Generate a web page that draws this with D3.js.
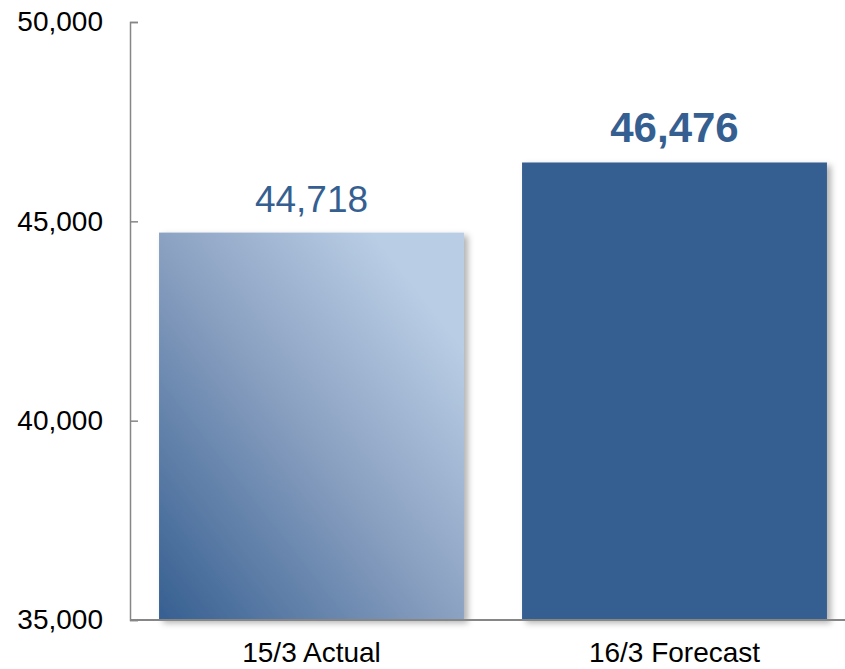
<!DOCTYPE html>
<html>
<head>
<meta charset="utf-8">
<script src="https://cdn.jsdelivr.net/npm/d3@7"></script>
<style>
  html, body { margin: 0; padding: 0; background: #fff; }
  svg { display: block; font-family: Arial, "Liberation Sans", sans-serif; }
</style>
</head>
<body>
<svg id="chart" width="845" height="669"></svg>
<script>
// Net sales comparison: actual vs forecast
const categories = ["15/3 Actual", "16/3 Forecast"];
const values = [44718, 46476];
const yTicks = [35000, 40000, 45000, 50000];

const svg = d3.select("#chart");
const axisColor = "#868686";
const barBlue = "#365F91";

const x = d3.scaleBand()
  .domain(categories)
  .range([130, 856])
  .paddingInner(0.16)
  .paddingOuter(0.08);

const y = d3.scaleLinear()
  .domain([35000, 50000])
  .range([620, 22]);

const defs = svg.append("defs");

// Diagonal fill for the actual bar: dark bottom-left to pale top-right
const grad = defs.append("linearGradient")
  .attr("id", "actualFill")
  .attr("x1", 0).attr("y1", 1)
  .attr("x2", 1).attr("y2", 0);
grad.append("stop").attr("offset", 0).attr("stop-color", "#365F91");
grad.append("stop").attr("offset", 0.5).attr("stop-color", "#8CA2C2");
grad.append("stop").attr("offset", 0.85).attr("stop-color", "#B9CDE5");
grad.append("stop").attr("offset", 1).attr("stop-color", "#B9CDE5");

const shadow = defs.append("filter")
  .attr("id", "barShadow")
  .attr("x", "-10%").attr("y", "-10%")
  .attr("width", "130%").attr("height", "130%");
shadow.append("feDropShadow")
  .attr("dx", 4).attr("dy", 3)
  .attr("stdDeviation", 3)
  .attr("flood-color", "#000")
  .attr("flood-opacity", 0.3);

// Bars
svg.append("g")
  .selectAll("rect")
  .data(values)
  .join("rect")
  .attr("x", (d, i) => x(categories[i]))
  .attr("y", d => y(d))
  .attr("width", x.bandwidth())
  .attr("height", d => y(35000) - y(d))
  .attr("fill", (d, i) => i === 0 ? "url(#actualFill)" : barBlue)
  .attr("filter", "url(#barShadow)");

// Value labels
const fmt = d3.format(",");
svg.append("g")
  .selectAll("text")
  .data(values)
  .join("text")
  .attr("x", (d, i) => x(categories[i]) + x.bandwidth() / 2)
  .attr("y", (d, i) => y(d) - (i === 0 ? 21 : 20))
  .attr("text-anchor", "middle")
  .attr("fill", barBlue)
  .attr("font-size", (d, i) => i === 0 ? 37 : 42)
  .attr("font-weight", (d, i) => i === 0 ? "normal" : "bold")
  .text(d => fmt(d));

// Y axis with inward ticks
const yAxis = d3.axisLeft(y)
  .tickValues(yTicks)
  .tickFormat(d3.format(","))
  .tickSizeInner(-8)
  .tickSizeOuter(-8)
  .tickPadding(27);

const gy = svg.append("g")
  .attr("transform", "translate(130,0)")
  .call(yAxis);
gy.select(".domain").attr("stroke", axisColor).attr("stroke-width", 1.5);
gy.selectAll(".tick line").attr("stroke", axisColor).attr("stroke-width", 1.5);
gy.selectAll(".tick text")
  .attr("fill", "#000")
  .attr("font-size", 28)
  .attr("font-family", "Arial, 'Liberation Sans', sans-serif");

// X axis baseline and category labels
const xAxis = d3.axisBottom(x).tickSize(0).tickSizeOuter(0).tickPadding(22);
const gx = svg.append("g")
  .attr("transform", `translate(0,${y(35000)})`)
  .call(xAxis);
gx.select(".domain")
  .attr("stroke", axisColor)
  .attr("stroke-width", 2)
  .attr("d", "M130,0H845");
gx.selectAll(".tick text")
  .attr("fill", "#000")
  .attr("font-size", 28)
  .attr("font-family", "Arial, 'Liberation Sans', sans-serif");
</script>
</body>
</html>
